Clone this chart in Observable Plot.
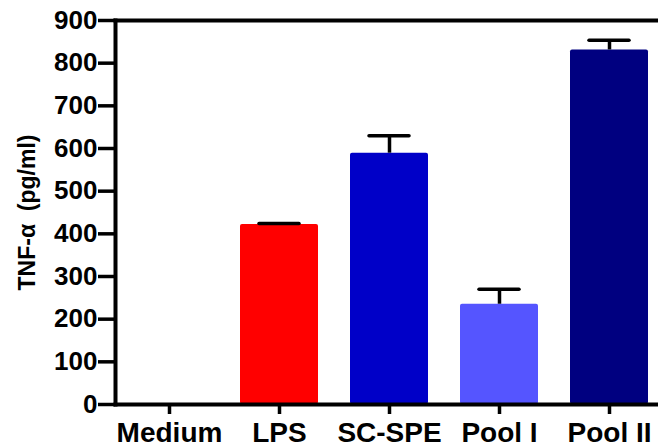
<!DOCTYPE html>
<html>
<head>
<meta charset="utf-8">
<script src="https://cdn.jsdelivr.net/npm/d3@7"></script>
<script src="https://cdn.jsdelivr.net/npm/@observablehq/plot@0.6"></script>
<style>
  html, body { margin: 0; padding: 0; background: #fff; }
  #chart svg { display: block; }
</style>
</head>
<body>
<div id="chart"></div>
<script>
const categories = ["Medium", "LPS", "SC-SPE", "Pool I", "Pool II"];
const means = [0, 422, 589, 235, 831];
const errors = [0, 2, 41, 35, 23];
const colors = ["#ffffff", "#ff0000", "#0000c8", "#5555ff", "#000080"];
const yTicks = [0, 100, 200, 300, 400, 500, 600, 700, 800, 900];
const yLabel = "TNF-\u03b1\u00a0\u00a0(pg/ml)";

const data = categories.map((c, i) => ({cat: c, mean: means[i], err: errors[i], top: means[i] + errors[i], color: colors[i]}));
const withErr = data.filter(d => d.err > 0);
const font = "'Liberation Sans', Arial, sans-serif";

const chart = Plot.plot({
  width: 658,
  height: 448,
  marginLeft: 115,
  marginRight: 0,
  marginTop: 20,
  marginBottom: 44,
  style: {fontFamily: font, background: "#fff", color: "#000"},
  x: {domain: categories, range: [115, 663], paddingInner: 0.29, paddingOuter: 0.125, align: 0.5},
  y: {domain: [0, 900]},
  color: {type: "identity"},
  marks: [
    Plot.barY(data, {x: "cat", y: "mean", fill: "color", rx: 2}),
    Plot.ruleX(withErr, {x: "cat", y1: "mean", y2: "top", stroke: "#000", strokeWidth: 3.5}),
    Plot.tickY(withErr, {x: "cat", y: "top", stroke: "#000", strokeWidth: 3.5, insetLeft: 19, insetRight: 19, strokeLinecap: "round"}),
    Plot.axisY(yTicks, {tickSize: 17, tickPadding: 1, fontSize: 26, fontWeight: "bold", strokeWidth: 3.5, label: null, tickFormat: d => String(d)}),
    Plot.axisX({tickSize: 10, tickPadding: 8, fontSize: 28, fontWeight: "bold", strokeWidth: 3.5, label: null}),
    Plot.frame({anchor: "left", strokeWidth: 4}),
    Plot.frame({anchor: "bottom", strokeWidth: 4}),
    Plot.frame({anchor: "top", strokeWidth: 4}),
    Plot.text([yLabel], {frameAnchor: "left", textAnchor: "middle", rotate: -90, dx: -88, dy: 0, fontSize: 23, fontWeight: "bold", fill: "#000"})
  ]
});
document.getElementById("chart").appendChild(chart);
</script>
</body>
</html>
